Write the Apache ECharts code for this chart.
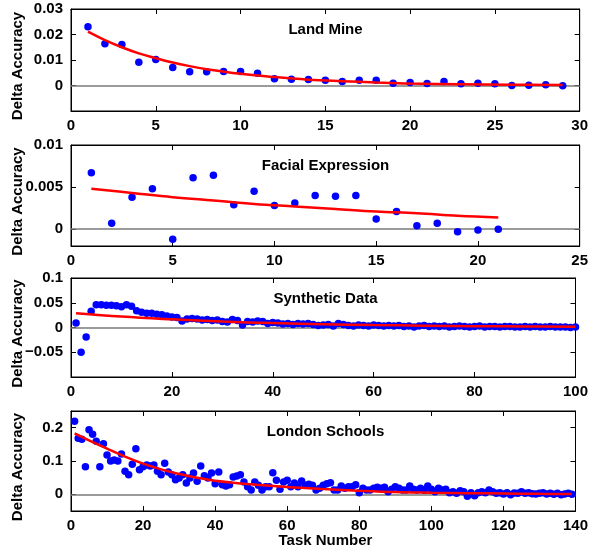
<!DOCTYPE html>
<html>
<head>
<meta charset="utf-8">
<script src="https://cdn.jsdelivr.net/npm/echarts@6/dist/echarts.min.js"></script>
<style>
html,body{margin:0;padding:0;background:#fff;}
#chart{width:591px;height:547px;}
</style>
</head>
<body>
<div id="chart"></div>
<script>
// ---- Data ----
const panelTitles = ['Land Mine', 'Facial Expression', 'Synthetic Data', 'London Schools'];
const xAxisTitle = 'Task Number';
const yAxisTitle = 'Delta Accuracy';

const xMax = [30, 25, 100, 140];
const xInterval = [5, 5, 20, 20];
const yMin = [-0.01, -0.002, -0.1, -0.05];
const yMax = [0.03, 0.01, 0.1, 0.25];
const yTicks1 = [0, 0.01, 0.02, 0.03];
const yTicks2 = [0, 0.005, 0.01];
const yTicks3 = [-0.05, 0, 0.05, 0.1];
const yTicks4 = [0, 0.1, 0.2];

const landMineY = [0.0230, 0.0164, 0.0161, 0.0091, 0.0102, 0.0071, 0.0054, 0.0054, 0.0055, 0.0055,
  0.0048, 0.0026, 0.0025, 0.0024, 0.0021, 0.0016, 0.0021, 0.0021, 0.0009, 0.0012,
  0.0008, 0.0016, 0.0007, 0.0009, 0.0007, 0.0000, 0.0001, 0.0003, -0.0001];
const landMineFitX = [1, 2, 3, 4, 5, 6, 7, 8, 10, 12, 14, 16, 18, 20, 23, 26, 29];
const landMineFitY = [0.0211, 0.0178, 0.0150, 0.0126, 0.0107, 0.0090, 0.0076, 0.0064, 0.0046, 0.0033,
  0.0023, 0.0017, 0.0012, 0.0008, 0.0005, 0.0003, 0.0002];

const facialY = [0.0067, 0.0007, 0.0038, 0.0048, -0.0012, 0.0061, 0.0064, 0.0029, 0.0045, 0.0028,
  0.0031, 0.0040, 0.0039, 0.0040, 0.0012, 0.0021, 0.0004, 0.0007, -0.0003, -0.0001, 0.0000];
const facialFitX = [1, 3, 5, 7, 9, 11, 13, 15, 17, 19, 21];
const facialFitY = [0.0048, 0.0043, 0.0038, 0.0034, 0.0030, 0.0027, 0.0024, 0.0021, 0.0019, 0.0016, 0.0014];

const syntheticY = [0.009, -0.050, -0.019, 0.033, 0.046, 0.046, 0.045, 0.045, 0.044, 0.042,
  0.046, 0.043, 0.034, 0.031, 0.029, 0.029, 0.027, 0.026, 0.023, 0.021,
  0.020, 0.013, 0.017, 0.018, 0.017, 0.015, 0.016, 0.014, 0.015, 0.012,
  0.011, 0.016, 0.014, 0.005, 0.012, 0.011, 0.013, 0.012, 0.008, 0.010,
  0.009, 0.007, 0.008, 0.006, 0.008, 0.007, 0.008, 0.006, 0.004, 0.005,
  0.006, 0.003, 0.008, 0.006, 0.004, 0.003, 0.005, 0.004, 0.003, 0.005,
  0.004, 0.003, 0.004, 0.003, 0.004, 0.002, 0.003, 0.001, 0.003, 0.004,
  0.002, 0.003, 0.002, 0.003, 0.001, 0.002, 0.003, 0.002, 0.001, 0.002,
  0.003, 0.001, 0.002, 0.002, 0.001, 0.002, 0.002, 0.001, 0.001, 0.002,
  0.001, 0.002, 0.001, 0.001, 0.002, 0.001, 0.001, 0.001, 0.000, 0.001];
const syntheticFitX = [1, 10, 20, 30, 40, 50, 60, 70, 80, 90, 100];
const syntheticFitY = [0.029, 0.022, 0.0165, 0.012, 0.009, 0.0067, 0.005, 0.0037, 0.0027, 0.002, 0.0015];

const londonY = [0.219, 0.168, 0.165, 0.083, 0.194, 0.180, 0.159, 0.083, 0.152, 0.118,
  0.100, 0.103, 0.100, 0.121, 0.069, 0.059, 0.090, 0.137, 0.074, 0.083,
  0.088, 0.085, 0.088, 0.069, 0.059, 0.093, 0.067, 0.059, 0.044, 0.049,
  0.059, 0.034, 0.049, 0.064, 0.039, 0.085, 0.056, 0.049, 0.064, 0.032,
  0.067, 0.029, 0.025, 0.029, 0.052, 0.055, 0.059, 0.037, 0.023, 0.013,
  0.037, 0.027, 0.013, 0.023, 0.023, 0.065, 0.042, 0.015, 0.037, 0.042,
  0.023, 0.034, 0.023, 0.040, 0.027, 0.030, 0.027, 0.013, 0.018, 0.027,
  0.032, 0.035, 0.013, 0.013, 0.025, 0.018, 0.023, 0.023, 0.029, 0.005,
  0.018, 0.013, 0.013, 0.018, 0.021, 0.018, 0.021, 0.008, 0.015, 0.023,
  0.018, 0.013, 0.013, 0.025, 0.015, 0.013, 0.018, 0.012, 0.025, 0.015,
  0.008, 0.018, 0.013, 0.015, 0.005, 0.008, 0.003, 0.011, 0.008, -0.006,
  0.005, -0.004, 0.005, 0.008, 0.005, 0.013, 0.008, 0.003, 0.005, 0.001,
  0.005, -0.001, 0.004, 0.003, 0.008, 0.003, 0.005, 0.002, 0.001, 0.003,
  0.005, 0.001, 0.003, 0.000, 0.003, -0.001, 0.001, 0.003, 0.000];
const londonFitX = [1, 5, 10, 15, 20, 25, 30, 35, 40, 50, 60, 70, 80, 90, 100, 110, 120, 130, 139];
const londonFitY = [0.183, 0.162, 0.137, 0.113, 0.092, 0.075, 0.061, 0.050, 0.041, 0.030, 0.022, 0.016,
  0.011, 0.007, 0.005, 0.0035, 0.0025, 0.0015, 0.001];

// ---- Layout ----
const FONT = '"Liberation Sans", Arial, Helvetica, sans-serif';
const gridTops = [9, 145, 278, 411];
const gridHeights = [102, 101, 99, 100];
const gridLeft = 71, gridWidth = 509;

const yTicks = [yTicks1, yTicks2, yTicks3, yTicks4];
const scatterSets = [landMineY, facialY, syntheticY, londonY];
const fitXs = [landMineFitX, facialFitX, syntheticFitX, londonFitX];
const fitYs = [landMineFitY, facialFitY, syntheticFitY, londonFitY];

function fmtY(v) {
  if (Math.abs(v) < 1e-12) return '0';
  const s = String(+Math.abs(v).toFixed(4));
  return (v < 0 ? '\u2212' : '') + s;
}

const grids = [], xAxes = [], yAxes = [], series = [], titles = [], graphics = [];
for (let i = 0; i < 4; i++) {
  grids.push({left: gridLeft, top: gridTops[i], width: gridWidth, height: gridHeights[i],
    show: true, borderColor: '#000', borderWidth: 1, backgroundColor: 'transparent'});
  const xBase = {gridIndex: i, type: 'value', min: 0, max: xMax[i], interval: xInterval[i],
    axisLine: {show: true, onZero: false, lineStyle: {color: '#000', width: 1}},
    axisTick: {show: true, inside: true, length: 5, lineStyle: {color: '#000', width: 1}},
    splitLine: {show: false}};
  xAxes.push(Object.assign({}, xBase, {position: 'bottom',
    axisLabel: {show: true, color: '#000', fontSize: 15, fontWeight: 'bold', fontFamily: FONT, margin: 7}}));
  xAxes.push(Object.assign({}, xBase, {position: 'top', axisLabel: {show: false}}));
  const yBase = {gridIndex: i, type: 'value', min: yMin[i], max: yMax[i],
    axisLine: {show: true, onZero: false, lineStyle: {color: '#000', width: 1}},
    axisTick: {show: true, inside: true, length: 5, customValues: yTicks[i], lineStyle: {color: '#000', width: 1}},
    splitLine: {show: false}};
  yAxes.push(Object.assign({}, yBase, {position: 'left',
    axisLabel: {show: true, customValues: yTicks[i], formatter: fmtY, color: '#000', fontSize: 15,
      fontWeight: 'bold', fontFamily: FONT, margin: 8}}));
  yAxes.push(Object.assign({}, yBase, {position: 'right', axisLabel: {show: false}}));

  series.push({type: 'scatter', xAxisIndex: 2 * i, yAxisIndex: 2 * i,
    data: scatterSets[i].map((v, k) => [k + 1, v]),
    symbol: 'circle', symbolSize: 7.5, itemStyle: {color: '#0000ff', opacity: 1}, z: 3,
    markLine: {silent: true, symbol: ['none', 'none'], label: {show: false},
      lineStyle: {color: '#7a7a7a', width: 1.5, type: 'solid'}, data: [{yAxis: 0}], z: 1, animation: false}});
  series.push({type: 'line', xAxisIndex: 2 * i, yAxisIndex: 2 * i,
    data: fitXs[i].map((x, k) => [x, fitYs[i][k]]),
    showSymbol: false, smooth: 0.4, lineStyle: {color: '#ff0000', width: 2.5}, itemStyle: {color: '#ff0000'}, z: 4});

  titles.push({text: panelTitles[i], left: gridLeft + gridWidth / 2, top: gridTops[i] + 13, textAlign: 'center', padding: 0,
    textStyle: {fontSize: 15, fontWeight: 'bold', color: '#000', fontFamily: FONT}});

  graphics.push({type: 'text', x: 18, y: gridTops[i] + gridHeights[i] / 2 + 6, rotation: Math.PI / 2,
    style: {text: yAxisTitle, fill: '#000', font: 'bold 15px ' + FONT, textAlign: 'center', textVerticalAlign: 'middle'}});
}
graphics.push({type: 'text', x: gridLeft + gridWidth / 2, y: 541,
  style: {text: xAxisTitle, fill: '#000', font: 'bold 15px ' + FONT, textAlign: 'center', textVerticalAlign: 'middle'}});

const chart = echarts.init(document.getElementById('chart'), null, {renderer: 'canvas'});
chart.setOption({
  animation: false,
  backgroundColor: '#fff',
  title: titles,
  grid: grids,
  xAxis: xAxes,
  yAxis: yAxes,
  series: series,
  graphic: graphics
});
</script>
</body>
</html>
